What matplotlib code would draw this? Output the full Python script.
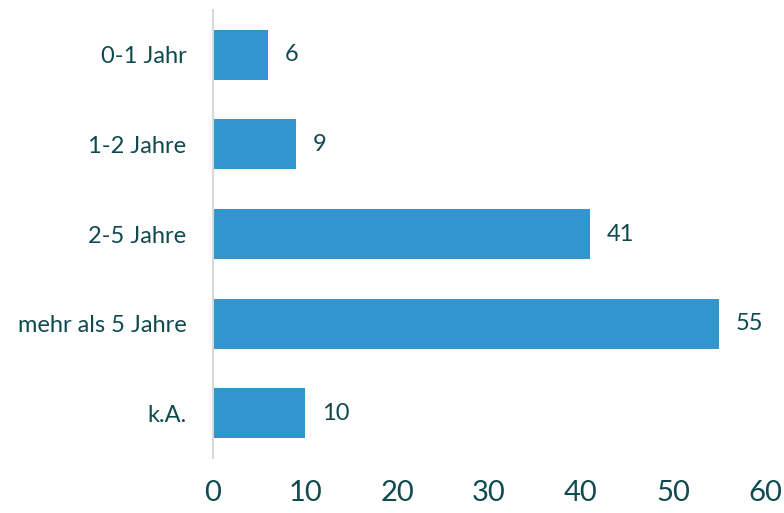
import matplotlib
matplotlib.use('Agg')
import matplotlib.pyplot as plt

# Daten
kategorien = ['0-1 Jahr', '1-2 Jahre', '2-5 Jahre', 'mehr als 5 Jahre', 'k.A.']
werte = [6, 9, 41, 55, 10]
x_ticks = [0, 10, 20, 30, 40, 50, 60]

textfarbe = '#0E4A4F'
balkenfarbe = '#3394CE'

plt.rcParams['font.family'] = ['Lato', 'DejaVu Sans']

fig = plt.figure(figsize=(7.84, 5.13), dpi=100)
ax = fig.add_axes([0.2717, 0.1072, 0.7041, 0.8733])

pos = list(range(len(kategorien)))
ax.barh(pos, werte, height=0.556, color=balkenfarbe)
ax.set_ylim(len(kategorien) - 0.5, -0.5)
ax.set_xlim(0, 60)

for p, w in zip(pos, werte):
    ax.annotate(str(w), (w, p), xytext=(12, 0), textcoords='offset points',
                va='center', ha='left', fontsize=17, color=textfarbe)

ax.set_yticks(pos)
ax.set_yticklabels(kategorien, fontsize=17, color=textfarbe)
ax.set_xticks(x_ticks)
ax.set_xticklabels([str(t) for t in x_ticks], fontsize=21, color=textfarbe)
ax.tick_params(axis='y', length=0, pad=19)
ax.tick_params(axis='x', length=0, pad=16)

for s in ['top', 'right', 'bottom']:
    ax.spines[s].set_visible(False)
ax.spines['left'].set_color('#D9D9D9')
ax.spines['left'].set_linewidth(1.5)

fig.savefig('out.png', dpi=100)
